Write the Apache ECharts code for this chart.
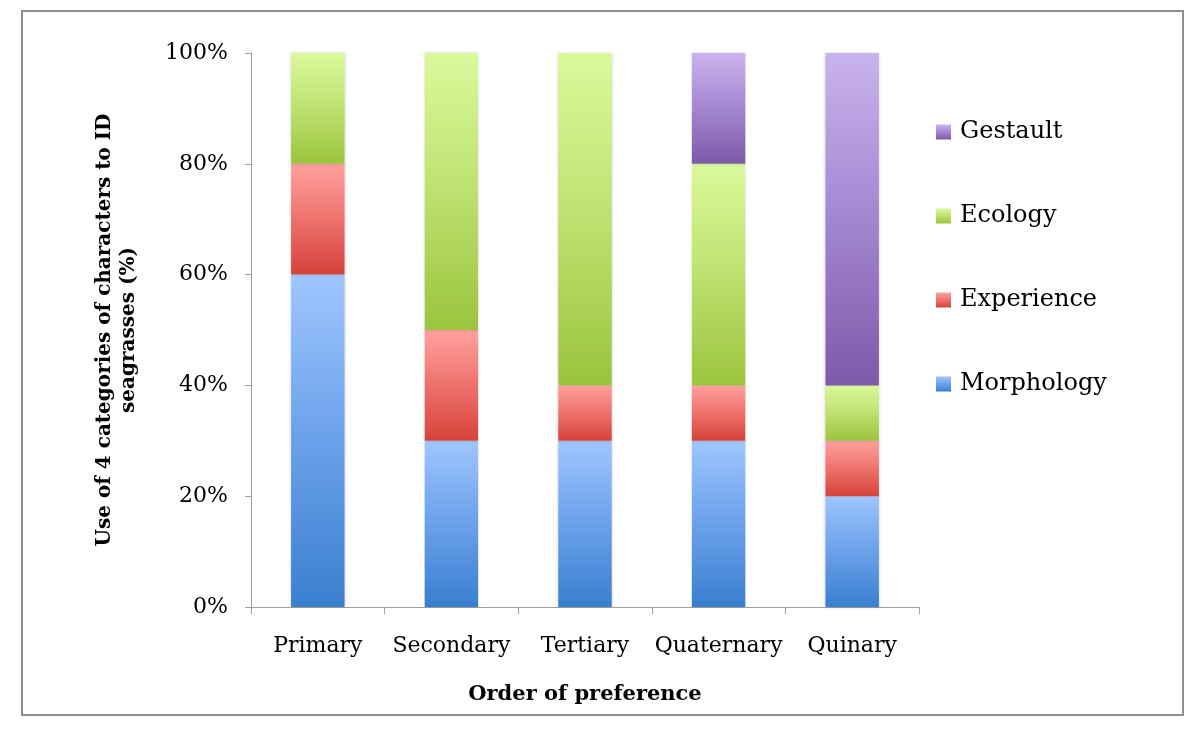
<!DOCTYPE html>
<html>
<head>
<meta charset="utf-8">
<script src="https://cdn.jsdelivr.net/npm/echarts@6/dist/echarts.min.js"></script>
<style>
html,body{margin:0;padding:0;background:#fff;}
#chart{width:1200px;height:740px;}
</style>
</head>
<body>
<div id="chart"></div>
<script>
var categories = ['Primary', 'Secondary', 'Tertiary', 'Quaternary', 'Quinary'];
var morphology = [60, 30, 30, 30, 20];
var experience = [20, 20, 10, 10, 10];
var ecology = [20, 50, 60, 40, 10];
var gestault = [0, 0, 0, 20, 60];
var legendOrder = ['Gestault', 'Ecology', 'Experience', 'Morphology'];

var FONT = 'DejaVu Serif';
function grad(top, mid, bottom) {
  return {
    type: 'linear', x: 0, y: 0, x2: 0, y2: 1,
    colorStops: [
      { offset: 0, color: top },
      { offset: 0.45, color: mid },
      { offset: 1, color: bottom }
    ]
  };
}
function series(name, data, color) {
  return {
    name: name, type: 'bar', stack: 'total', barWidth: '40%',
    data: data,
    itemStyle: { color: color, shadowColor: 'rgba(0,0,0,0.18)', shadowBlur: 3 },
    emphasis: { disabled: true }
  };
}

var chart = echarts.init(document.getElementById('chart'), null, { renderer: 'canvas' });
chart.setOption({
  backgroundColor: '#ffffff',
  animation: false,
  graphic: [{
    type: 'rect', silent: true,
    shape: { x: 22, y: 11, width: 1161, height: 704 },
    style: { fill: 'none', stroke: '#8e8e8e', lineWidth: 2 }
  }],
  grid: { left: 251, right: 281, top: 53, bottom: 133 },
  legend: {
    data: legendOrder,
    orient: 'vertical',
    left: 936, top: 120, padding: 0,
    itemWidth: 15, itemHeight: 15, itemGap: 60,
    icon: 'rect',
    textStyle: { fontFamily: FONT, fontSize: 24, color: '#000', padding: [0, 0, 0, 4] }
  },
  xAxis: {
    type: 'category', data: categories,
    axisLine: { lineStyle: { color: '#a0a0a0', width: 1 } },
    axisTick: { show: true, length: 7, lineStyle: { color: '#a0a0a0' } },
    axisLabel: { interval: 0, fontFamily: FONT, fontSize: 22, color: '#000', margin: 28 },
    name: 'Order of preference', nameLocation: 'middle', nameGap: 77,
    nameTextStyle: { fontFamily: FONT, fontSize: 21, fontWeight: 'bold', color: '#000' }
  },
  yAxis: {
    type: 'value', min: 0, max: 100, interval: 20,
    axisLine: { show: true, lineStyle: { color: '#a0a0a0', width: 1 } },
    axisTick: { show: true, length: 6, lineStyle: { color: '#a0a0a0' } },
    splitLine: { show: false },
    axisLabel: { fontFamily: FONT, fontSize: 22, color: '#000', margin: 23, formatter: '{value}%' },
    name: 'Use of 4 categories of characters to ID\nseagrasses (%)',
    nameLocation: 'middle', nameGap: 110, nameRotate: 90,
    nameTextStyle: { fontFamily: FONT, fontSize: 20, fontWeight: 'bold', color: '#000', lineHeight: 24, align: 'center' }
  },
  series: [
    series('Morphology', morphology, grad('#9fc6ff', '#6fa4ec', '#3a7fd0')),
    series('Experience', experience, grad('#ffa19e', '#f07671', '#d6423a')),
    series('Ecology', ecology, grad('#daf99c', '#c0e474', '#9bc43d')),
    series('Gestault', gestault, grad('#c9b3ec', '#a88ad4', '#7d5aa8'))
  ]
});
</script>
</body>
</html>
